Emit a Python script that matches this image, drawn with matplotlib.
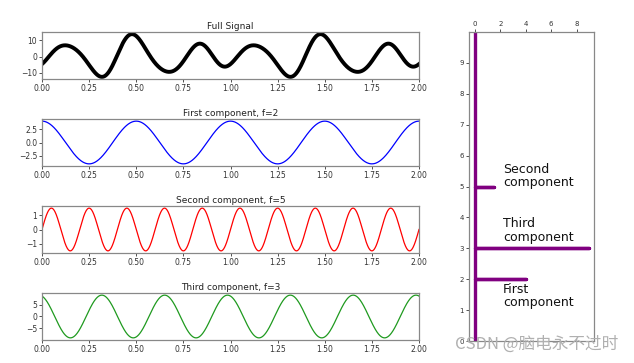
import numpy as np
import matplotlib
matplotlib.use('Agg')
import matplotlib.pyplot as plt

# component parameters
freqs = [2, 5, 3]
amps = [4, 1.5, 9]
phases = [0, -np.pi/2, 0.3]          # cos phase in rad
full_signs = [1, 1, -1]              # how each component enters the full signal
titles = ['First component, f=2', 'Second component, f=5', 'Third component, f=3']
colors = ['b', 'r', '#1f9a1f']

# spectrum panel (amplitude vs frequency)
spec_freq = [0, 2, 2, 2, 3, 3, 3, 5, 5, 5, 10]
spec_amp = [0, 0, 4, 0, 0, 9, 0, 0, 1.5, 0, 0]
labels = ['First\ncomponent', 'Third\ncomponent', 'Second\ncomponent']
label_y = [1.45, 3.58, 5.34]

t = np.linspace(0, 2, 2000)
comps = [a*np.cos(2*np.pi*f*t + p) for a, f, p in zip(amps, freqs, phases)]
full = sum(s*c for s, c in zip(full_signs, comps))

fig = plt.figure(figsize=(6.34, 3.63), dpi=100)

tops = [32, 119, 206, 293]
H = 363.0
for i, top in enumerate(tops):
    ax = fig.add_axes([42/634, 1-(top+47)/H, 377/634, 47/H])
    if i == 0:
        ax.plot(t, full, color='k', lw=2.8)
        ax.set_title('Full Signal', fontsize=6.5, pad=2, color='#222222')
    else:
        ax.plot(t, comps[i-1], color=colors[i-1], lw=0.9)
        ax.set_title(titles[i-1], fontsize=6.5, pad=2, color='#222222')
    ax.set_xlim(0, 2)
    ax.set_xticks(np.arange(0, 2.01, 0.25))
    ax.tick_params(labelsize=5.5, length=2, width=0.6, pad=1.5, colors='#333333')
    for s in ax.spines.values():
        s.set_color('#888888')
        s.set_linewidth(0.9)

ax = fig.add_axes([469/634, 1-341/H, 125/634, 309/H])
ax.plot(spec_amp, spec_freq, color='purple', lw=2.4)
ax.set_xlim(-0.47, 9.37)
ax.set_ylim(0, 10)
ax.set_xticks([0, 2, 4, 6, 8])
ax.set_yticks(range(0, 10))
ax.xaxis.tick_top()
ax.tick_params(labelsize=5, length=2, width=0.6, pad=1.5, colors='#333333')
for s in ax.spines.values():
    s.set_color('#888888')
    s.set_linewidth(0.9)
for lab, y in zip(labels, label_y):
    ax.text(2.2, y, lab, fontsize=9, va='center', ha='left', linespacing=1.05,
            color='#111111')

fig.text(455/634, 1-344/H, 'CSDN @脑电永不过时', fontsize=12, va='center', ha='left',
         color='#b0b0b0', family=['Noto Sans CJK SC', 'DejaVu Sans'])

fig.savefig('out.png', dpi=100)
